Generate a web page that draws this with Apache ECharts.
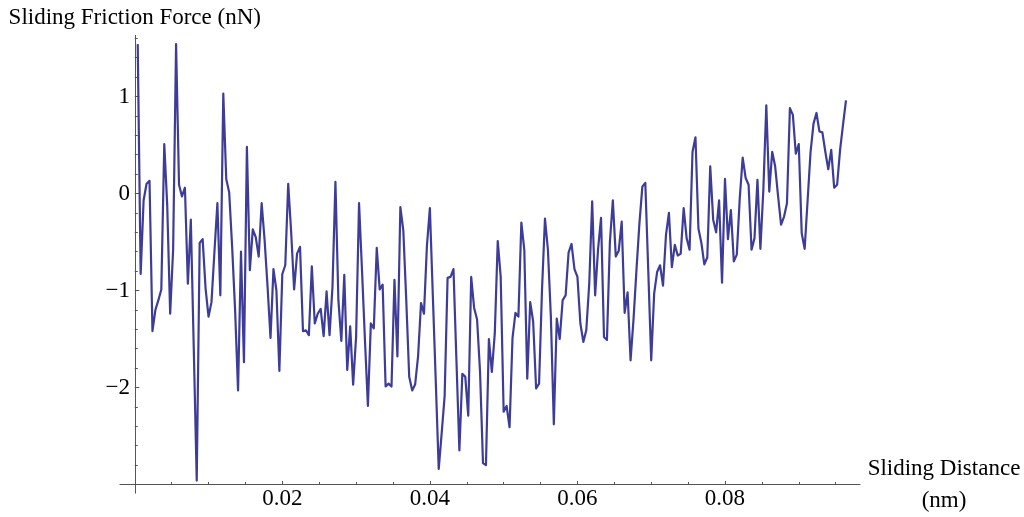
<!DOCTYPE html>
<html>
<head>
<meta charset="utf-8">
<script src="https://cdn.jsdelivr.net/npm/echarts@6/dist/echarts.min.js"></script>
<style>
html,body{margin:0;padding:0;background:#fff;}
#chart{width:1024px;height:517px;}
</style>
</head>
<body>
<div id="chart"></div>
<script>
// Sliding friction force (nN), sampled every 0.0004 nm starting at 0.0004 nm
const forceValues = [
  1.54,-0.83,-0.07,0.10,0.13,-1.42,-1.20,-1.10,-0.99,0.51,
  -0.12,-1.24,-0.58,1.54,0.09,-0.03,0.06,-0.93,-0.27,-1.60,
  -2.96,-0.51,-0.47,-0.98,-1.27,-1.12,-0.60,-0.10,-1.05,1.03,
  0.15,0.01,-0.55,-1.20,-2.03,-0.60,-1.74,0.48,-0.79,-0.37,
  -0.45,-0.65,-0.10,-0.48,-0.96,-1.49,-0.78,-1.00,-1.83,-0.83,
  -0.74,0.10,-0.40,-0.99,-0.62,-0.55,-1.42,-1.41,-1.46,-0.75,
  -1.34,-1.24,-1.19,-1.47,-1.01,-1.46,-0.96,0.12,-1.10,-1.52,
  -0.84,-1.82,-1.37,-1.97,-1.48,-0.10,-0.79,-1.51,-2.19,-1.34,
  -1.39,-0.56,-0.99,-0.94,-1.99,-1.96,-1.99,-0.89,-1.68,-0.14,
  -0.38,-1.10,-1.89,-2.03,-1.97,-1.68,-1.13,-1.24,-0.54,-0.15,
  -1.05,-1.94,-2.84,-2.47,-2.09,-0.87,-0.86,-0.78,-1.72,-2.65,
  -1.86,-1.89,-2.29,-0.86,-1.18,-1.30,-1.84,-2.78,-2.80,-1.50,
  -1.84,-1.44,-0.49,-0.86,-2.25,-2.19,-2.41,-1.49,-1.23,-1.27,
  -0.30,-0.58,-1.91,-1.12,-1.32,-2.01,-1.96,-0.99,-0.26,-0.58,
  -1.27,-2.38,-1.29,-1.50,-1.10,-1.05,-0.61,-0.52,-0.78,-0.86,
  -1.34,-1.53,-1.41,-0.93,-0.08,-1.05,-0.57,-0.25,-1.48,-1.51,
  -0.50,-0.07,-0.65,-0.59,-0.29,-1.23,-1.02,-1.72,-1.30,-0.79,
  -0.31,0.07,0.11,-0.79,-1.72,-1.03,-0.81,-0.74,-0.95,-0.43,
  -0.20,-0.76,-0.53,-0.64,-0.62,-0.15,-0.46,-0.58,0.43,0.58,
  -0.36,-0.51,-0.73,-0.66,0.28,-0.27,-0.40,-0.07,-0.92,0.15,
  -0.47,-0.17,-0.70,-0.63,-0.05,0.37,0.16,0.09,-0.58,-0.46,
  0.14,-0.57,0.04,0.91,0.02,0.43,0.28,-0.03,-0.32,-0.24,
  -0.10,0.88,0.81,0.41,0.51,-0.41,-0.57,-0.07,0.43,0.72,
  0.83,0.64,0.63,0.43,0.25,0.45,0.06,0.09,0.45,0.71,
  0.96
];
const sampleStep = 0.0004;
const xTickLabels = [0.02, 0.04, 0.06, 0.08];
const yTickLabels = [-2, -1, 0, 1];
const xTitle = 'Sliding Distance\n(nm)';
const yTitle = 'Sliding Friction Force (nN)';

const points = forceValues.map((v, i) => [+(sampleStep * (i + 1)).toFixed(4), v]);

const FONT = 'Liberation Serif';
const AXIS_COLOR = '#555555';

const chart = echarts.init(document.getElementById('chart'), null, {renderer: 'canvas'});
chart.setOption({
  animation: false,
  backgroundColor: '#ffffff',
  grid: {left: 120, right: 164, top: 35.4, bottom: 23.8, containLabel: false},
  xAxis: {
    type: 'value',
    min: -0.002,
    max: 0.0983,
    splitNumber: 5,
    offset: -8.7,
    axisLine: {show: true, onZero: false, lineStyle: {color: AXIS_COLOR, width: 1}},
    axisTick: {show: true, inside: true, length: 3.5, customValues: xTickLabels, lineStyle: {color: AXIS_COLOR, width: 1}},
    minorTick: {show: true, splitNumber: 4, length: 2.5, lineStyle: {color: AXIS_COLOR, width: 1}},
    axisLabel: {
      customValues: xTickLabels,
      margin: 3,
      fontFamily: FONT,
      fontSize: 23,
      color: '#000',
      formatter: v => String(+v.toFixed(2))
    },
    splitLine: {show: false},
    minorSplitLine: {show: false},
    name: xTitle,
    nameLocation: 'end',
    nameGap: 84,
    nameTextStyle: {fontFamily: FONT, fontSize: 23, color: '#000', align: 'center', verticalAlign: 'middle', lineHeight: 32}
  },
  yAxis: {
    type: 'value',
    min: -3.09,
    max: 1.63,
    splitNumber: 5,
    axisLine: {show: true, onZero: true, lineStyle: {color: AXIS_COLOR, width: 1}},
    axisTick: {show: true, inside: true, length: 4.5, customValues: yTickLabels, lineStyle: {color: AXIS_COLOR, width: 1}},
    minorTick: {show: true, splitNumber: 5, length: 3, lineStyle: {color: AXIS_COLOR, width: 1}},
    axisLabel: {
      customValues: yTickLabels,
      margin: -10,
      fontFamily: FONT,
      fontSize: 23,
      color: '#000',
      formatter: v => (v < 0 ? '\u2212' + String(-v) : String(v))
    },
    splitLine: {show: false},
    minorSplitLine: {show: false},
    name: yTitle,
    nameLocation: 'end',
    nameGap: 17,
    nameTextStyle: {fontFamily: FONT, fontSize: 23, color: '#000', align: 'center', verticalAlign: 'middle'}
  },
  series: [{
    type: 'line',
    data: points,
    showSymbol: false,
    symbol: 'none',
    lineStyle: {color: '#3d3d99', width: 2.2, join: 'round'},
    silent: true
  }]
});
</script>
</body>
</html>
